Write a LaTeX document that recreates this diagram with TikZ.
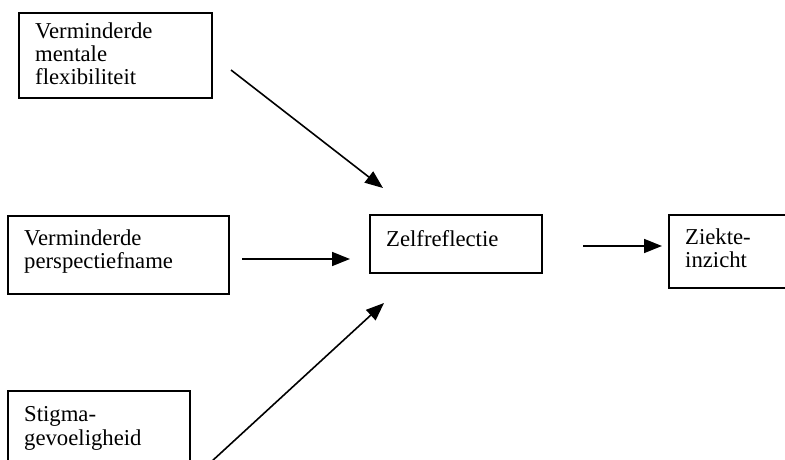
\documentclass[tikz,border=0pt]{standalone}
\usepackage{fontspec}
\setmainfont{Liberation Serif}
\usetikzlibrary{arrows.meta}
\tikzset{
  box/.style={draw, line width=1.6bp, inner sep=0pt, anchor=north west},
  lbl/.style={anchor=base west, inner sep=0pt, align=left, font=\fontsize{22.8}{23.5}\selectfont},
  conn/.style={line width=1.6bp, -{Triangle[length=18bp, width=14bp]}}
}
\begin{document}
\begin{tikzpicture}[x=1bp, y=-1bp]
\useasboundingbox (0,0) rectangle (785,460);
\clip (0,0) rectangle (785,460);
% boxes
\node[box, minimum width=193bp, minimum height=85bp] (b1) at (18,12) {};
\node[box, minimum width=221bp, minimum height=78bp] (b2) at (7,215) {};
\node[box, minimum width=172bp, minimum height=58bp] (zr) at (369,214) {};
\node[box, minimum width=140bp, minimum height=73bp] (zi) at (668,214) {};
\node[box, minimum width=182bp, minimum height=90bp] (st) at (7,390) {};
% texts (anchor = baseline of last line)
\node[lbl] (t1) at (35,85) {Verminderde\\mentale\\flexibiliteit};
\node[lbl] (t2) at (24,269) {Verminderde\\perspectiefname};
\node[lbl] (t3) at (386,247) {Zelfreflectie};
\node[lbl] (t4) at (685,268) {Ziekte-\\inzicht};
\node[lbl] (t5) at (24,445) {Stigma-\\gevoeligheid};
% connector end points
\coordinate (a1s) at (231,70);
\coordinate (a1e) at (383,188);
\coordinate (a2s) at (242,259);
\coordinate (a2e) at (350,259);
\coordinate (a3s) at (583,246);
\coordinate (a3e) at (662,246);
\coordinate (a4s) at (211,462);
\coordinate (a4e) at (384,303);
\draw[conn] (a1s) -- (a1e);
\draw[conn] (a2s) -- (a2e);
\draw[conn] (a3s) -- (a3e);
\draw[conn] (a4s) -- (a4e);
\end{tikzpicture}
\end{document}
